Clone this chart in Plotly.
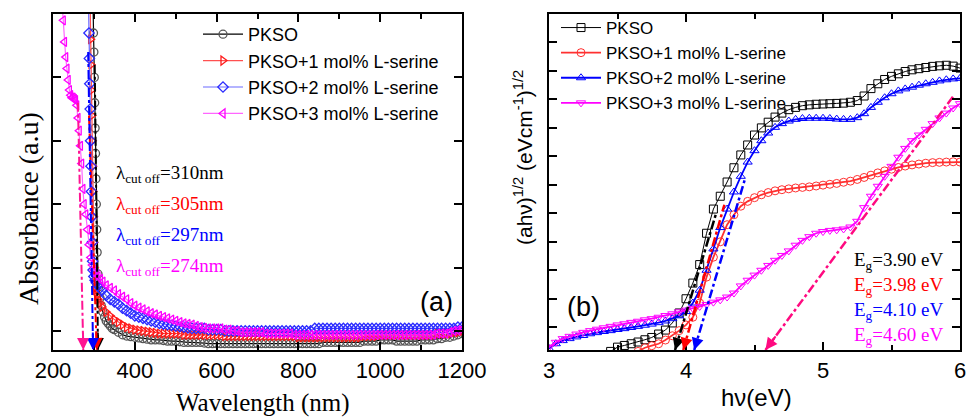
import plotly.graph_objects as go

# ---------------- Panel (a): absorbance vs wavelength ----------------
flat_wl = list(range(400, 1201, 10))

pkso_wl = [298, 299, 300, 301, 302, 303, 304, 305, 306, 307, 308, 310, 312, 315, 318, 322, 326,
           330, 335, 340, 345, 350, 360, 370, 380, 390] + flat_wl
pkso_abs = [3.05, 2.85, 2.7, 2.5, 2.3, 2.1, 1.9, 1.7, 1.5, 1.3, 1.12, 0.95, 0.85, 0.76, 0.70, 0.65, 0.61,
            0.58, 0.56, 0.54, 0.52, 0.51, 0.49, 0.47, 0.46, 0.455] + \
           [0.45, 0.445, 0.44, 0.435, 0.43, 0.43, 0.43, 0.425, 0.42, 0.42,
            0.42, 0.415, 0.41, 0.41, 0.41, 0.41, 0.41, 0.405, 0.40, 0.40] + \
           [0.40] * 26 + [0.41] * 10 + [0.42] * 4 + [0.43] * 4 + [0.42] * 6 + [0.43] * 4 + \
           [0.44, 0.44, 0.45, 0.45, 0.46, 0.47, 0.48]

s1_wl = [291, 292, 293, 294, 295, 296, 297, 298, 299, 300, 301, 302, 304, 307, 310, 315, 320, 330,
         340, 350, 360, 370, 380, 390] + flat_wl
s1_abs = [3.05, 2.8, 2.6, 2.4, 2.2, 2.0, 1.8, 1.6, 1.4, 1.2, 1.0, 0.9, 0.82, 0.78, 0.75, 0.72, 0.69, 0.65,
          0.62, 0.59, 0.57, 0.55, 0.53, 0.52] + \
         [0.51, 0.505, 0.50, 0.495, 0.49, 0.485, 0.48] + [0.48] * 5 + [0.47] * 10 + [0.46] * 18 + \
         [0.45] * 16 + [0.46] * 4 + [0.47] * 14 + [0.48] * 4 + [0.49, 0.49, 0.50]

s2_wl = [287, 288, 289, 290, 291, 292, 293, 294, 295, 296, 297, 298, 300, 303, 306, 310, 315, 320,
         330, 340, 350, 360, 370, 380, 390] + flat_wl
s2_abs = [3.05, 2.85, 2.65, 2.45, 2.25, 2.0, 1.8, 1.6, 1.4, 1.2, 1.05, 0.98, 0.93, 0.9, 0.88, 0.86, 0.84, 0.82,
          0.78, 0.75, 0.73, 0.71, 0.68, 0.66, 0.64] + \
         [0.62, 0.61, 0.60, 0.59, 0.58, 0.57, 0.56, 0.555, 0.55, 0.545, 0.54, 0.535, 0.53, 0.525] + \
         [0.52] * 4 + [0.51] * 4 + [0.50] * 22 + [0.52] * 35 + [0.53, 0.53]

s3_wl = [222, 225, 228, 231, 234, 237, 240, 243, 246, 249, 252, 255, 258, 261, 264, 267, 270, 273,
         276, 280, 284, 288, 292, 296, 300, 305, 310, 316, 322, 330, 340, 350, 360, 370, 380, 390] + flat_wl
s3_abs = [3.1, 2.95, 2.78, 2.66, 2.57, 2.48, 2.40, 2.36, 2.34, 2.34, 2.33, 2.32, 2.28, 2.18, 2.08, 1.96, 1.82, 1.62,
          1.5, 1.42, 1.3, 1.18, 1.08, 1.02, 0.98, 0.95, 0.93, 0.91, 0.89, 0.86, 0.84, 0.82, 0.79, 0.77, 0.75, 0.72] + \
         [0.70, 0.685, 0.67, 0.655, 0.64, 0.63, 0.62, 0.61, 0.60, 0.59, 0.58, 0.57, 0.56, 0.555,
          0.55, 0.54, 0.53, 0.525] + [0.52] * 4 + [0.51] * 2 + [0.50] * 2 + [0.49] * 6 + [0.48] * 7 + \
         [0.47] * 35 + [0.48] * 3 + [0.49, 0.50, 0.505, 0.51]

# cut-off extrapolation lines (wavelength, absorbance)
cut_lines_a = [
    ("#000000", [302, 310], [2.6, 0.35]),
    ("#ff0000", [288, 307], [2.2, 0.35]),
    ("#0000ff", [286, 298], [2.7, 0.35]),
    ("#ff1493", [261, 274], [2.3, 0.35]),
]
cut_labels = ["310nm", "305nm", "297nm", "274nm"]

# ---------------- Panel (b): Tauc plot ----------------
hv_grid = [round(3.0 + 0.05 * i, 2) for i in range(61)]

t0_hv = hv_grid[9:]
t0_val = [0.15, 0.3, 0.36, 0.42, 0.48, 0.56, 0.64, 0.76, 0.9, 1.15, 1.5, 2.0, 2.55, 3.2, 4.3, 5.15,
          5.6, 6.1, 6.6, 7.05, 7.4, 7.75, 8.0, 8.2, 8.38, 8.52, 8.64, 8.72, 8.78, 8.81, 8.83, 8.84,
          8.85, 8.86, 8.87, 8.9, 8.96, 9.12, 9.38, 9.55, 9.7, 9.81, 9.9, 9.98, 10.04, 10.08, 10.12,
          10.16, 10.18, 10.2, 10.17, 10.1]

t1_hv = hv_grid[13:]
t1_val = [0.15, 0.28, 0.35, 0.42, 0.55, 0.7, 0.88, 1.08, 1.35, 1.85, 2.76, 3.46, 4.0, 4.6, 4.95, 5.25,
          5.42, 5.55, 5.65, 5.73, 5.79, 5.83, 5.86, 5.89, 5.91, 5.93, 5.96, 5.99, 6.02, 6.05, 6.09,
          6.13, 6.19, 6.26, 6.34, 6.42, 6.49, 6.55, 6.61, 6.66, 6.70, 6.73, 6.76, 6.78, 6.79, 6.8,
          6.81, 6.8]

t2_hv = hv_grid
t2_val = [0.25, 0.42, 0.53, 0.6, 0.66, 0.71, 0.77, 0.81, 0.85, 0.88, 0.92, 0.95, 0.99, 1.03, 1.07,
          1.11, 1.16, 1.22, 1.3, 1.4, 1.55, 1.85, 2.3, 3.0, 3.75, 4.5, 5.15, 5.75, 6.3, 6.8, 7.2,
          7.55, 7.82, 8.02, 8.15, 8.24, 8.3, 8.33, 8.34, 8.34, 8.34, 8.33, 8.31, 8.3, 8.3, 8.36,
          8.5, 8.72, 8.9, 9.06, 9.2, 9.3, 9.37, 9.43, 9.5, 9.55, 9.6, 9.65, 9.69, 9.72, 9.74]

t3_hv = hv_grid
t3_val = [0.3, 0.47, 0.6, 0.68, 0.76, 0.82, 0.88, 0.93, 0.98, 1.03, 1.08, 1.12, 1.17, 1.21, 1.26,
          1.3, 1.35, 1.41, 1.47, 1.54, 1.6, 1.66, 1.73, 1.8, 1.88, 1.96, 2.06, 2.2, 2.45, 2.65, 2.83,
          3.0, 3.17, 3.35, 3.52, 3.68, 3.88, 4.05, 4.18, 4.3, 4.36, 4.4, 4.42, 4.45, 4.52, 4.72,
          5.2, 5.6, 5.95, 6.3, 6.65, 6.97, 7.28, 7.55, 7.75, 7.95, 8.15, 8.35, 8.52, 8.7, 8.85]

fit_lines_b = [
    ("#000000", [3.92, 4.22], [0.2, 5.0]),
    ("#ff0000", [3.98, 4.28], [0.2, 5.3]),
    ("#0000ff", [4.06, 4.43], [0.2, 6.2]),
    ("#ff0a80", [4.58, 5.95], [0.2, 9.1]),
]
eg_labels = ["3.90", "3.98", "4.10", "4.60"]

names = ["PKSO", "PKSO+1 mol% L-serine", "PKSO+2 mol% L-serine", "PKSO+3 mol% L-serine"]

SANS = "Liberation Sans"
SERIF = "Liberation Serif"
W, H = 971, 417

fig = go.Figure()

# panel (a) series
a_series = [
    (pkso_wl, pkso_abs, "#000000", "#555555", "circle-open"),
    (s1_wl, s1_abs, "#ff5050", "#ff1a1a", "triangle-right-open"),
    (s2_wl, s2_abs, "#6a6aff", "#2a2aff", "diamond-open"),
    (s3_wl, s3_abs, "#ff66ff", "#ff00ff", "triangle-left-open"),
]
for (xs, ys, lc, mc, sym), nm in zip(a_series, names):
    fig.add_trace(go.Scatter(
        x=xs, y=ys, mode="lines+markers", name=nm, xaxis="x", yaxis="y", legend="legend",
        line=dict(color=lc, width=1.2),
        marker=dict(symbol=sym, size=8, color=mc, line=dict(width=1.3, color=mc)),
    ))

for col, xs, ys in cut_lines_a:
    fig.add_trace(go.Scatter(x=xs, y=ys, mode="lines", xaxis="x", yaxis="y", showlegend=False,
                             line=dict(color=col, width=2, dash="dashdot")))

# panel (b) series
b_series = [
    (t0_hv, t0_val, "#000000", 1.0, "square-open"),
    (t1_hv, t1_val, "#ff3030", 1.8, "circle-open"),
    (t2_hv, t2_val, "#0000ff", 1.8, "triangle-up-open"),
    (t3_hv, t3_val, "#ff00ff", 1.8, "triangle-down-open"),
]
for (xs, ys, col, lw, sym), nm in zip(b_series, names):
    fig.add_trace(go.Scatter(
        x=xs, y=ys, mode="lines+markers", name=nm, xaxis="x2", yaxis="y2", legend="legend2",
        line=dict(color=col, width=lw),
        marker=dict(symbol=sym, size=8, color=col, line=dict(width=1, color=col)),
    ))

for col, xs, ys in fit_lines_b:
    fig.add_trace(go.Scatter(x=xs, y=ys, mode="lines", xaxis="x2", yaxis="y2", showlegend=False,
                             line=dict(color=col, width=2.5, dash="dashdot")))

annotations = []
# arrowheads
for col, xs, ys in cut_lines_a:
    annotations.append(dict(x=xs[1], y=ys[1], ax=xs[1] - (xs[1] - xs[0]) * 0.06, ay=ys[1] + 0.15,
                            xref="x", yref="y", axref="x", ayref="y", showarrow=True, text="",
                            arrowhead=2, arrowsize=1.2, arrowwidth=2, arrowcolor=col))
for col, xs, ys in fit_lines_b:
    annotations.append(dict(x=xs[0], y=ys[0], ax=xs[0] + (xs[1] - xs[0]) * 0.06, ay=ys[0] + (ys[1] - ys[0]) * 0.06,
                            xref="x2", yref="y2", axref="x2", ayref="y2", showarrow=True, text="",
                            arrowhead=2, arrowsize=1.2, arrowwidth=2, arrowcolor=col))


def paper_text(xpx, ypx, text, font, xanchor="center", yanchor="middle", angle=0):
    return dict(x=xpx / W, y=(H - ypx) / H, xref="paper", yref="paper", showarrow=False,
                xanchor=xanchor, yanchor=yanchor, textangle=angle, text=text, font=font)


lab_cols = ["#000000", "#ff0000", "#0000ff", "#ff00ff"]
for i, (lab, col) in enumerate(zip(cut_labels, lab_cols)):
    annotations.append(paper_text(114, 174 + 31 * i, "λ<sub>cut off</sub>=" + lab,
                                  dict(family=SERIF, size=19, color=col), xanchor="left"))
for i, (lab, col) in enumerate(zip(eg_labels, lab_cols)):
    annotations.append(paper_text(945, 261 + 25 * i, "E<sub>g</sub>=" + lab + " eV",
                                  dict(family=SERIF, size=19, color=col), xanchor="right"))

annotations.append(paper_text(436, 302, "(a)", dict(family=SANS, size=27, color="black")))
annotations.append(paper_text(583, 307, "(b)", dict(family=SANS, size=27, color="black")))
annotations.append(paper_text(28, 209, "Absorbance (a.u)", dict(family=SERIF, size=28, color="black"), angle=-90))
annotations.append(paper_text(263, 403, "Wavelength (nm)", dict(family=SERIF, size=25, color="black")))
annotations.append(paper_text(756, 397, "hν(eV)", dict(family=SANS, size=24, color="black")))
annotations.append(paper_text(523, 158, "(ahν)<sup>1/2</sup> (eVcm<sup>-1</sup>)<sup>1/2</sup>",
                              dict(family=SANS, size=21, color="black"), angle=-90))

ydom = [(H - 350) / H, (H - 14) / H]
axis_common = dict(showline=True, linecolor="black", linewidth=2, mirror="allticks",
                   ticks="inside", ticklen=8, tickwidth=2, tickcolor="black",
                   showgrid=False, zeroline=False, automargin=False)

fig.update_layout(
    width=W, height=H,
    margin=dict(l=0, r=0, t=0, b=0, pad=0, autoexpand=False),
    paper_bgcolor="white", plot_bgcolor="white",
    font=dict(family=SANS, color="black"),
    xaxis=dict(domain=[53 / W, 462 / W], range=[200, 1200], dtick=200, tick0=200,
               tickfont=dict(family=SANS, size=22, color="black"), anchor="y",
               minor=dict(dtick=100, ticks="inside", ticklen=5, tickwidth=2, tickcolor="black"),
               **axis_common),
    yaxis=dict(domain=ydom, range=[0.35, 3.0], dtick=0.5, tick0=0.5, showticklabels=False,
               anchor="x", **axis_common),
    xaxis2=dict(domain=[549 / W, 960 / W], range=[3, 6], dtick=1, tick0=3,
                tickfont=dict(family=SANS, size=22, color="black"), anchor="y2",
                minor=dict(dtick=0.5, ticks="inside", ticklen=5, tickwidth=2, tickcolor="black"),
                **axis_common),
    yaxis2=dict(domain=ydom, range=[0.2, 12.0], dtick=1, tick0=1, showticklabels=False,
                anchor="x2", **axis_common),
    legend=dict(x=198 / W, y=(H - 16) / H, xanchor="left", yanchor="top",
                bgcolor="rgba(0,0,0,0)", font=dict(family=SANS, size=18, color="black"),
                itemwidth=40, tracegroupgap=0),
    legend2=dict(x=556 / W, y=(H - 10) / H, xanchor="left", yanchor="top",
                 bgcolor="rgba(0,0,0,0)", font=dict(family=SANS, size=17, color="black"),
                 itemwidth=40, tracegroupgap=0),
    annotations=annotations,
    showlegend=True,
)

fig.write_html("out.html")
